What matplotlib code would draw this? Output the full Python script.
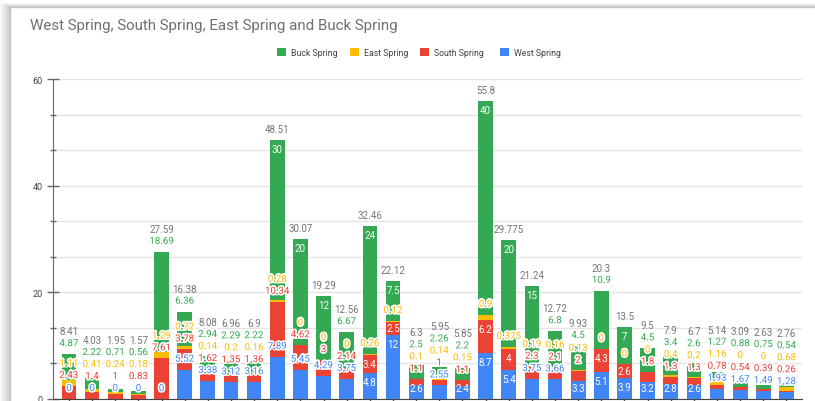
import matplotlib
matplotlib.use('Agg')
import matplotlib.pyplot as plt
import matplotlib.patheffects as pe
from matplotlib.patches import Rectangle
import numpy as np

# ---------------- data ----------------
title = "West Spring, South Spring, East Spring and Buck Spring"
series_names = ["West Spring", "South Spring", "East Spring", "Buck Spring"]
legend_order = ["Buck Spring", "East Spring", "South Spring", "West Spring"]

west = [0, 0, 0, 0, 0, 5.52, 3.38, 3.12, 3.16, 7.89, 5.45, 4.29, 3.75, 4.8, 12, 2.6,
        2.55, 2.4, 8.7, 5.4, 3.75, 3.66, 3.3, 5.1, 3.9, 3.2, 2.8, 2.6, 1.93, 1.67, 1.49, 1.28]
south = [2.43, 1.4, 1, 0.83, 7.61, 3.78, 1.62, 1.35, 1.36, 10.34, 4.62, 3, 2.14, 3.4, 2.5, 1.1,
         1, 1.1, 6.2, 4, 2.3, 2.1, 2, 4.3, 2.6, 1.8, 1.3, 1.3, 0.78, 0.54, 0.39, 0.26]
east = [1.11, 0.41, 0.24, 0.18, 1.29, 0.72, 0.14, 0.2, 0.16, 0.28, 0, 0, 0, 0.26, 0.12, 0.1,
        0.14, 0.15, 0.9, 0.375, 0.19, 0.16, 0.13, 0, 0, 0, 0.4, 0.2, 1.16, 0, 0, 0.68]
buck = [4.87, 2.22, 0.71, 0.56, 18.69, 6.36, 2.94, 2.29, 2.22, 30, 20, 12, 6.67, 24, 7.5, 2.5,
        2.26, 2.2, 40, 20, 15, 6.8, 4.5, 10.9, 7, 4.5, 3.4, 2.6, 1.27, 0.88, 0.75, 0.54]

colors = {"West Spring": "#4285F4", "South Spring": "#EA4335",
          "East Spring": "#FBBC04", "Buck Spring": "#34A853"}
values = {"West Spring": west, "South Spring": south,
          "East Spring": east, "Buck Spring": buck}

# ---------------- figure ----------------
W, H = 815, 402
fig = plt.figure(figsize=(W / 100, H / 100), dpi=100)
fig.patch.set_facecolor("white")

FONT = "Roboto"

def px_rect(x0, y0, x1, y1, **kw):
    fig.patches.append(Rectangle((x0 / W, 1 - y1 / H), (x1 - x0) / W, (y1 - y0) / H,
                                 transform=fig.transFigure, figure=fig, **kw))

# card shadow + border
for d in range(1, 11):
    px_rect(10 - d, 8 - d * 0.4, 830, 420, facecolor="black", edgecolor="none",
            alpha=0.018, zorder=-3)
px_rect(10, 8, 830, 420, facecolor="white", edgecolor="#c4c4c4", linewidth=1, zorder=-2)

# title
fig.text(30 / W, 1 - 26 / H, title, fontsize=10.9, color="#707070", family=FONT,
         ha="left", va="center")

# legend (manual)
leg_y = 53
leg_x = [277, 350, 420, 500]
for name, lx in zip(legend_order, leg_x):
    px_rect(lx, leg_y - 4.5, lx + 8.5, leg_y + 4, facecolor=colors[name],
            edgecolor="none", zorder=2)
    fig.text((lx + 14) / W, 1 - leg_y / H, name, fontsize=6.3, color="#444444",
             family=FONT, ha="left", va="center")

# axes
ax_left, ax_right, ax_top, ax_bottom = 53, 802, 80, 400
ax = fig.add_axes([ax_left / W, 1 - ax_bottom / H, (ax_right - ax_left) / W,
                   (ax_bottom - ax_top) / H])
ax.set_facecolor("none")
n = len(west)
x = np.arange(n)
ymax = 60
ax.set_ylim(0, ymax)
xlim = (-0.69, n - 1 + 0.67)
ax.set_xlim(*xlim)
k = (ax_bottom - ax_top) / ymax  # px per unit
kx = (ax_right - ax_left) / (xlim[1] - xlim[0])

bar_w = 0.635
bar_px = bar_w * kx
bottom = np.zeros(n)
for name in series_names:
    v = np.array(values[name], dtype=float)
    ax.bar(x, v, bar_w, bottom=bottom, color=colors[name], edgecolor="none",
           zorder=3)
    bottom += v
totals = bottom.copy()

# grid / ticks
ax.set_yticks([0, 20, 40, 60])
ax.set_yticks(np.arange(0, ymax + 0.01, 20 / 3), minor=True)
ax.set_yticklabels(["0", "20", "40", "60"], fontsize=6.5, color="#444444", family=FONT)
ax.grid(True, axis="y", which="both", color="#e4e4e4", linewidth=1, zorder=0)
ax.tick_params(axis="y", which="major", direction="inout", length=9, width=1,
               color="#666666", pad=3)
ax.tick_params(axis="y", which="minor", direction="inout", length=4, width=1,
               color="#666666")
ax.set_xticks(x)
ax.set_xticklabels([""] * n)
ax.tick_params(axis="x", direction="out", length=5, width=1, color="#555555")
for s in ["top", "right"]:
    ax.spines[s].set_visible(False)
ax.spines["left"].set_color("#666666")
ax.spines["bottom"].set_color("#444444")
ax.spines["left"].set_zorder(4)

# data labels (placement heuristic in pixel units)
def fmt(v):
    return f"{round(v, 3):g}"

renderer = fig.canvas.get_renderer()
LBL = dict(fontsize=7, family=FONT)

def text_w(s):
    t = fig.text(0, 0, s, **LBL)
    w = t.get_window_extent(renderer).width
    t.remove()
    return w

sep = 12.0
halo = [pe.withStroke(linewidth=2.4, foreground="white")]
for i in range(n):
    prev = -1e9
    base = 0.0
    for name in series_names:
        v = values[name][i]
        s = fmt(v)
        seg_lo = base * k
        seg_hi = (base + v) * k
        seg_px = seg_hi - seg_lo
        fits = text_w(s) <= bar_px + 0.5 and seg_px >= 10
        inside = False
        if fits:
            yp = seg_hi - min(9, seg_px / 2)
            if yp >= prev + sep:
                inside = True
            else:
                yp = seg_hi + 11
        else:
            yp = seg_hi + 11
        yp = max(yp, prev + sep, 11)
        prev = yp
        if inside:
            ax.text(i, yp / k, s, ha="center", va="center", color="white",
                    zorder=6, clip_on=False, **LBL)
        else:
            ax.text(i, yp / k, s, ha="center", va="center", color=colors[name],
                    zorder=6, clip_on=False, path_effects=halo, **LBL)
        base += v
    ty = max(totals[i] * k + 11, prev + sep)
    ax.text(i, ty / k, fmt(totals[i]), ha="center", va="center",
            color="#757575", zorder=6, clip_on=False, **LBL)

fig.savefig("out.png", dpi=100, facecolor=fig.get_facecolor())
